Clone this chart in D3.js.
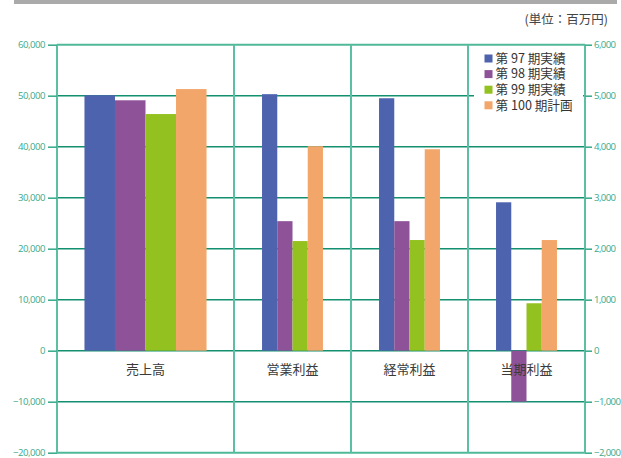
<!DOCTYPE html>
<html>
<head>
<meta charset="utf-8">
<script src="https://cdn.jsdelivr.net/npm/d3@7"></script>
<style>
  html, body { margin: 0; padding: 0; background: #fff; }
  svg { display: block; }
</style>
</head>
<body>
<svg id="chart" width="621" height="458"></svg>
<script>
// ---- data ----
const categories = ["売上高", "営業利益", "経常利益", "当期利益"];
const seriesNames = ["第 97 期実績", "第 98 期実績", "第 99 期実績", "第 100 期計画"];
const s97 = [50100, 5030, 4950, 2910];
const s98 = [49100, 2540, 2540, -1000];
const s99 = [46400, 2150, 2170, 930];
const s100 = [51300, 4010, 3950, 2170];
const leftTicks = [-20000, -10000, 0, 10000, 20000, 30000, 40000, 50000, 60000];
const rightTicks = [-2000, -1000, 0, 1000, 2000, 3000, 4000, 5000, 6000];
const unitLabel = "(単位：百万円)";

const seriesValues = [s97, s98, s99, s100];
const colors = ["#4e63ae", "#8e5299", "#93c11f", "#f3a66a"];

(function () {
const svg = d3.select("#chart");
const pL = 57, pR = 585, pT = 44.7, pB = 452.7;
const jpFont = "'Noto Sans CJK JP', 'Noto Sans', sans-serif";
const numFont = "'Open Sans', 'Noto Sans', sans-serif";

// top gray bar
svg.append("rect").attr("x", 14).attr("y", 0).attr("width", 603).attr("height", 4).attr("fill", "#aaaaaa");

// unit label
svg.append("text").attr("x", 608).attr("y", 24).attr("text-anchor", "end")
  .attr("font-family", jpFont).attr("font-size", 12.5).attr("fill", "#444").text(unitLabel);

// scales
const yL = d3.scaleLinear().domain([-20000, 60000]).range([pB, pT]);
const yR = d3.scaleLinear().domain([-2000, 6000]).range([pB, pT]);
const xSales = d3.scaleBand().domain(categories.slice(0, 1)).range([pL, 234]);
const xProfit = d3.scaleBand().domain(categories.slice(1)).range([234, pR]);
const innerSales = d3.scaleBand().domain(d3.range(4)).range([0, xSales.bandwidth()]).paddingInner(0).paddingOuter(0.9);
const innerProfit = d3.scaleBand().domain(d3.range(4)).range([0, xProfit.bandwidth()]).paddingInner(0).paddingOuter(1.84);

// horizontal gridlines
const grid = svg.append("g");
leftTicks.forEach(t => {
  const isEdge = (t === 60000 || t === -20000);
  grid.append("line").attr("x1", pL).attr("x2", pR)
    .attr("y1", yL(t)).attr("y2", yL(t))
    .attr("stroke", isEdge ? "#4fb999" : "#12906f").attr("stroke-width", isEdge ? 2 : 1.6);
});
// vertical lines
const vx = [pL, xProfit("営業利益"), xProfit("経常利益"), xProfit("当期利益"), pR];
vx.forEach(x => {
  grid.append("line").attr("x1", x).attr("x2", x).attr("y1", pT).attr("y2", pB)
    .attr("stroke", "#5cbfa3").attr("stroke-width", 2);
});

// left axis
const axL = svg.append("g").attr("transform", `translate(${pL},0)`)
  .call(d3.axisLeft(yL).tickValues(leftTicks).tickSize(9).tickPadding(3).tickFormat(d3.format(",")));
axL.select(".domain").remove();
axL.selectAll("line").attr("stroke", "#3fae8e").attr("stroke-width", 1.6);
axL.selectAll("text").attr("fill", "#3aa98a").attr("font-family", numFont).attr("font-size", 9.6).attr("letter-spacing", -0.5);

// right axis
const axR = svg.append("g").attr("transform", `translate(${pR},0)`)
  .call(d3.axisRight(yR).tickValues(rightTicks).tickSize(7).tickPadding(2).tickFormat(d3.format(",")));
axR.select(".domain").remove();
axR.selectAll("line").attr("stroke", "#3fae8e").attr("stroke-width", 1.6);
axR.selectAll("text").attr("fill", "#3aa98a").attr("font-family", numFont).attr("font-size", 9.6).attr("letter-spacing", -0.6);

// bars
const bars = svg.append("g");
categories.forEach((cat, ci) => {
  const isSales = ci === 0;
  const xs = isSales ? xSales : xProfit;
  const inner = isSales ? innerSales : innerProfit;
  const y = isSales ? yL : yR;
  seriesValues.forEach((vals, si) => {
    const v = vals[ci];
    bars.append("rect")
      .attr("x", xs(cat) + inner(si))
      .attr("width", inner.bandwidth())
      .attr("y", Math.min(y(v), y(0)))
      .attr("height", Math.abs(y(v) - y(0)))
      .attr("fill", colors[si]);
  });
});

// category labels
categories.forEach((cat, ci) => {
  const xs = ci === 0 ? xSales : xProfit;
  svg.append("text").attr("x", xs(cat) + xs.bandwidth() / 2).attr("y", 374)
    .attr("text-anchor", "middle").attr("font-family", jpFont).attr("font-size", 13)
    .attr("fill", "#3a3a3a").text(cat);
});

// legend
const lg = svg.append("g");
lg.append("rect").attr("x", 474).attr("y", 46).attr("width", 109).attr("height", 70).attr("fill", "#fff");
seriesNames.forEach((name, i) => {
  const cy = 58.5 + i * 15.6;
  lg.append("rect").attr("x", 484.5).attr("y", cy - 4).attr("width", 8).attr("height", 8).attr("fill", colors[i]);
  lg.append("text").attr("x", 495.5).attr("y", cy + 4.3)
    .attr("font-family", jpFont).attr("font-size", 12.6).attr("fill", "#333").text(name);
});
})();
</script>
</body>
</html>
